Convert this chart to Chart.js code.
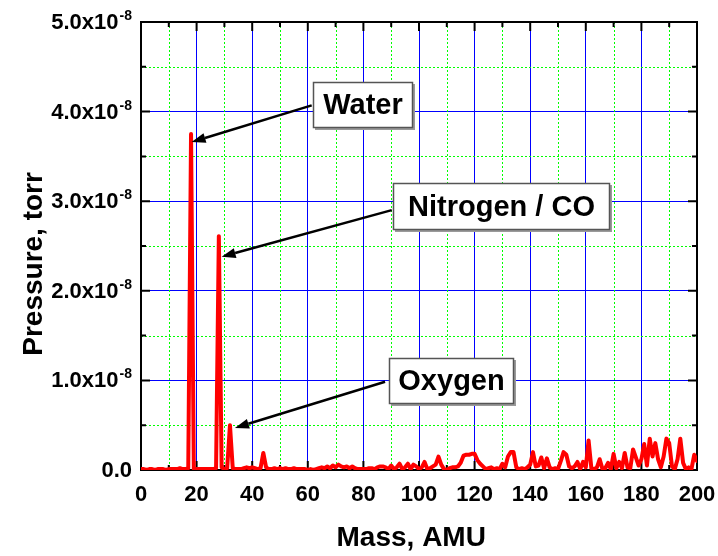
<!DOCTYPE html>
<html>
<head>
<meta charset="utf-8">
<script src="https://cdn.jsdelivr.net/npm/chart.js@4.4.1/dist/chart.umd.min.js"></script>
<style>
  html, body { margin: 0; padding: 0; background: #fff; }
</style>
</head>
<body>
<canvas id="myChart" width="718" height="556"></canvas>
<script>
// mass scan, 1 AMU steps
var masses = [
  0, 1, 2, 3, 4, 5, 6, 7, 8, 9, 10, 11, 12, 13, 14, 15, 16, 17, 18, 19,
  20, 21, 22, 23, 24, 25, 26, 27, 28, 29, 30, 31, 32, 33, 34, 35, 36, 37, 38, 39,
  40, 41, 42, 43, 44, 45, 46, 47, 48, 49, 50, 51, 52, 53, 54, 55, 56, 57, 58, 59,
  60, 61, 62, 63, 64, 65, 66, 67, 68, 69, 70, 71, 72, 73, 74, 75, 76, 77, 78, 79,
  80, 81, 82, 83, 84, 85, 86, 87, 88, 89, 90, 91, 92, 93, 94, 95, 96, 97, 98, 99,
  100, 101, 102, 103, 104, 105, 106, 107, 108, 109, 110, 111, 112, 113, 114, 115, 116, 117, 118, 119,
  120, 121, 122, 123, 124, 125, 126, 127, 128, 129, 130, 131, 132, 133, 134, 135, 136, 137, 138, 139,
  140, 141, 142, 143, 144, 145, 146, 147, 148, 149, 150, 151, 152, 153, 154, 155, 156, 157, 158, 159,
  160, 161, 162, 163, 164, 165, 166, 167, 168, 169, 170, 171, 172, 173, 174, 175, 176, 177, 178, 179,
  180, 181, 182, 183, 184, 185, 186, 187, 188, 189, 190, 191, 192, 193, 194, 195, 196, 197, 198, 199,
  200
];

// pressure in units of 1e-8 torr, one per mass above
var pressure = [
  0.01, 0.01, 0.00, 0.01, 0.01, 0.00, 0.01, 0.01, 0.01, 0.00, 0.01, 0.01, 0.01, 0.01, 0.02, 0.01, 0.01, 0.02, 3.75, 0.01,
  0.01, 0.01, 0.01, 0.01, 0.01, 0.01, 0.01, 0.02, 2.61, 0.03, 0.01, 0.02, 0.50, 0.02, 0.01, 0.01, 0.01, 0.02, 0.03, 0.02,
  0.03, 0.02, 0.01, 0.02, 0.19, 0.03, 0.01, 0.01, 0.02, 0.01, 0.02, 0.01, 0.02, 0.01, 0.01, 0.02, 0.01, 0.01, 0.01, 0.01,
  0.00, 0.01, 0.00, 0.01, 0.02, 0.03, 0.02, 0.04, 0.02, 0.05, 0.03, 0.06, 0.04, 0.03, 0.04, 0.02, 0.04, 0.02, 0.01, 0.01,
  0.01, 0.01, 0.02, 0.02, 0.01, 0.03, 0.04, 0.04, 0.03, 0.01, 0.05, 0.01, 0.03, 0.07, 0.01, 0.03, 0.07, 0.01, 0.06, 0.04,
  0.01, 0.03, 0.09, 0.01, 0.02, 0.04, 0.06, 0.15, 0.06, 0.01, 0.00, 0.02, 0.03, 0.03, 0.04, 0.08, 0.16, 0.17, 0.17, 0.18,
  0.18, 0.11, 0.07, 0.04, 0.01, 0.02, 0.03, 0.01, 0.02, 0.01, 0.07, 0.03, 0.15, 0.20, 0.20, 0.03, 0.01, 0.02, 0.01, 0.03,
  0.06, 0.20, 0.04, 0.05, 0.14, 0.02, 0.13, 0.03, 0.01, 0.02, 0.01, 0.10, 0.20, 0.17, 0.04, 0.02, 0.04, 0.09, 0.01, 0.09,
  0.03, 0.33, 0.02, 0.01, 0.03, 0.12, 0.01, 0.02, 0.08, 0.01, 0.18, 0.02, 0.09, 0.02, 0.19, 0.03, 0.02, 0.23, 0.14, 0.05,
  0.12, 0.29, 0.05, 0.35, 0.15, 0.30, 0.12, 0.03, 0.15, 0.35, 0.30, 0.04, 0.01, 0.12, 0.35, 0.08, 0.01, 0.03, 0.01, 0.17,
  0.10
];

var yTickMain = ['0.0', '1.0x10', '2.0x10', '3.0x10', '4.0x10', '5.0x10'];
var yTickExp = ['', '-8', '-8', '-8', '-8', '-8'];
var xTitle = 'Mass, AMU';
var yTitle = 'Pressure, torr';

// callouts: text, box [mass left, mass right, pressure top, pressure bottom], arrow [from mass, from p, to mass, to p]
var noteLabels = ['Water', 'Nitrogen / CO', 'Oxygen'];
var noteBoxes = [[61.9, 97.8, 4.33, 3.82], [90.6, 168.7, 3.20, 2.68], [89.2, 134.2, 1.25, 0.74]];
var noteArrows = [[61.4, 4.07, 18.2, 3.66], [90.2, 2.90, 29.0, 2.38], [87.8, 0.985, 33.8, 0.47]];

var FONT = '"Liberation Sans", Arial, sans-serif';

var points = masses.map(function (m, i) { return { x: m, y: pressure[i] }; });

function mids(ticks) {
  var out = [];
  for (var i = 0; i < ticks.length - 1; i++) out.push((ticks[i].value + ticks[i + 1].value) / 2);
  return out;
}

var framePlugin = {
  id: 'framePlugin',
  beforeDatasetsDraw: function (chart) {
    var ctx = chart.ctx, a = chart.chartArea, xs = chart.scales.x, ys = chart.scales.y;
    ctx.save();
    // minor grid, green dotted
    ctx.strokeStyle = '#00ff00';
    ctx.lineWidth = 1;
    ctx.setLineDash([2, 2]);
    mids(xs.ticks).forEach(function (v) {
      var px = Math.round(xs.getPixelForValue(v)) + 0.5;
      ctx.beginPath(); ctx.moveTo(px, a.top); ctx.lineTo(px, a.bottom); ctx.stroke();
    });
    mids(ys.ticks).forEach(function (v) {
      var py = Math.round(ys.getPixelForValue(v)) + 0.5;
      ctx.beginPath(); ctx.moveTo(a.left, py); ctx.lineTo(a.right, py); ctx.stroke();
    });
    ctx.setLineDash([]);

    // inside tick marks on all sides
    ctx.strokeStyle = '#000';
    ctx.lineWidth = 2;
    function xt(v, len) {
      var px = xs.getPixelForValue(v);
      ctx.beginPath();
      ctx.moveTo(px, a.bottom); ctx.lineTo(px, a.bottom - len);
      ctx.moveTo(px, a.top); ctx.lineTo(px, a.top + len);
      ctx.stroke();
    }
    function yt(v, len) {
      var py = ys.getPixelForValue(v);
      ctx.beginPath();
      ctx.moveTo(a.left, py); ctx.lineTo(a.left + len, py);
      ctx.moveTo(a.right, py); ctx.lineTo(a.right - len, py);
      ctx.stroke();
    }
    xs.ticks.forEach(function (t) { xt(t.value, 9); });
    mids(xs.ticks).forEach(function (v) { xt(v, 5); });
    ys.ticks.forEach(function (t) { yt(t.value, 9); });
    mids(ys.ticks).forEach(function (v) { yt(v, 5); });

    ctx.strokeRect(a.left, a.top, a.right - a.left, a.bottom - a.top);
    ctx.restore();
  },
  afterDraw: function (chart) {
    var ctx = chart.ctx, xs = chart.scales.x, ys = chart.scales.y;
    ctx.save();
    // y tick labels with superscript exponent
    ys.ticks.forEach(function (t, i) {
      var py = ys.getPixelForValue(t.value);
      var right = 132;
      ctx.fillStyle = '#000';
      ctx.font = 'bold 14px ' + FONT;
      var ew = yTickExp[i] ? ctx.measureText(yTickExp[i]).width : 0;
      if (yTickExp[i]) {
        ctx.textAlign = 'left';
        ctx.textBaseline = 'alphabetic';
        ctx.fillText(yTickExp[i], right - ew, py - 2);
      }
      ctx.font = 'bold 22px ' + FONT;
      ctx.textAlign = 'right';
      ctx.textBaseline = 'middle';
      ctx.fillText(yTickMain[i], right - ew - (ew ? 1 : 0), py + 1);
    });

    // axis titles, slightly off-centre as in the original
    ctx.font = 'bold 28px ' + FONT;
    ctx.textAlign = 'center';
    ctx.textBaseline = 'middle';
    ctx.fillStyle = '#000';
    ctx.fillText(xTitle, xs.getPixelForValue(97.2), 538);
    ctx.save();
    ctx.translate(34, ys.getPixelForValue(2.3));
    ctx.rotate(-Math.PI / 2);
    ctx.fillText(yTitle, 0, 0);
    ctx.restore();

    // callout arrows
    ctx.strokeStyle = '#000';
    ctx.fillStyle = '#000';
    noteArrows.forEach(function (ar) {
      var x0 = xs.getPixelForValue(ar[0]), y0 = ys.getPixelForValue(ar[1]);
      var x1 = xs.getPixelForValue(ar[2]), y1 = ys.getPixelForValue(ar[3]);
      var ang = Math.atan2(y1 - y0, x1 - x0);
      var hl = 14, hw = 5;
      var bx = x1 - hl * Math.cos(ang), by = y1 - hl * Math.sin(ang);
      ctx.lineWidth = 2.5;
      ctx.beginPath(); ctx.moveTo(x0, y0); ctx.lineTo(bx, by); ctx.stroke();
      ctx.beginPath();
      ctx.moveTo(x1, y1);
      ctx.lineTo(bx + hw * Math.sin(ang), by - hw * Math.cos(ang));
      ctx.lineTo(bx - hw * Math.sin(ang), by + hw * Math.cos(ang));
      ctx.closePath();
      ctx.fill();
    });

    // callout boxes
    noteBoxes.forEach(function (b, i) {
      var l = Math.round(xs.getPixelForValue(b[0])), r = Math.round(xs.getPixelForValue(b[1]));
      var t = Math.round(ys.getPixelForValue(b[2])), bt = Math.round(ys.getPixelForValue(b[3]));
      ctx.fillStyle = '#9a9a9a';
      ctx.fillRect(l + 2, t + 2, r - l, bt - t);
      ctx.fillStyle = '#fff';
      ctx.fillRect(l, t, r - l, bt - t);
      ctx.strokeStyle = '#555';
      ctx.lineWidth = 1.5;
      ctx.strokeRect(l + 0.5, t + 0.5, r - l - 1, bt - t - 1);
      ctx.fillStyle = '#000';
      ctx.font = 'bold 29px ' + FONT;
      ctx.textAlign = 'center';
      ctx.textBaseline = 'middle';
      ctx.fillText(noteLabels[i], (l + r) / 2, (t + bt) / 2 + 1);
    });
    ctx.restore();
  }
};

new Chart(document.getElementById('myChart'), {
  type: 'line',
  data: {
    datasets: [{
      data: points,
      borderColor: '#ff0000',
      borderWidth: 4,
      borderJoinStyle: 'round',
      borderCapStyle: 'round',
      pointRadius: 0,
      tension: 0,
      fill: false
    }]
  },
  options: {
    responsive: false,
    animation: false,
    layout: { padding: { top: 22, right: 21, left: 0, bottom: 0 } },
    plugins: { legend: { display: false }, tooltip: { enabled: false } },
    scales: {
      x: {
        type: 'linear',
        min: 0,
        max: 200,
        ticks: { stepSize: 20, color: '#000', padding: 0, maxRotation: 0,
                 font: { family: FONT, size: 22, weight: 'bold' } },
        grid: { color: '#0000ff', lineWidth: 1, drawTicks: true, tickLength: 12,
                tickColor: 'rgba(0,0,0,0)' },
        border: { display: false },
        title: { display: false },
        afterFit: function (s) { s.height = 86; }
      },
      y: {
        min: 0,
        max: 5,
        ticks: { stepSize: 1, display: false },
        grid: { color: '#0000ff', lineWidth: 1, drawTicks: false },
        border: { display: false },
        title: { display: false },
        afterFit: function (s) { s.width = 141; }
      }
    }
  },
  plugins: [framePlugin]
});
</script>
</body>
</html>
